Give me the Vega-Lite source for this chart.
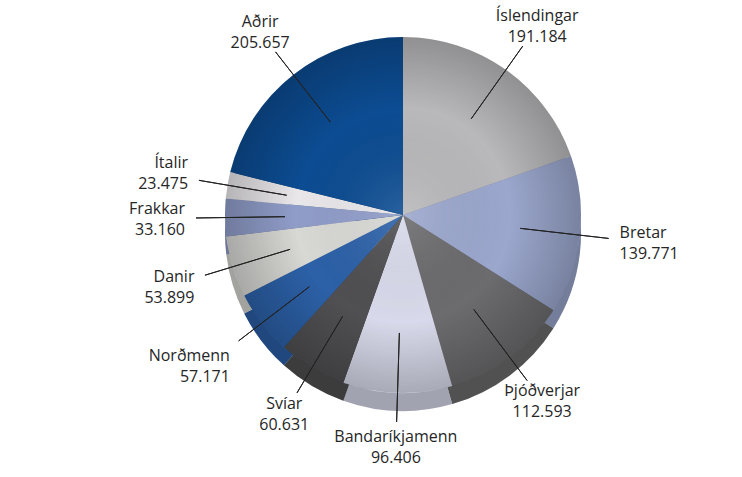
{
  "$schema": "https://vega.github.io/schema/vega-lite/v6.json",
  "width": 678,
  "height": 430,
  "autosize": {"type": "none"},
  "padding": {"left": 64, "top": 0, "right": 0, "bottom": 47},
  "background": "white",
  "config": {
    "view": {"stroke": null},
    "text": {"font": "Open Sans", "fontSize": 16, "color": "#262626"}
  },
  "data": {
    "values": [
      {"k": 1, "land": "Íslendingar", "fjoldi": 191184},
      {"k": 2, "land": "Bretar", "fjoldi": 139771},
      {"k": 3, "land": "Þjóðverjar", "fjoldi": 112593},
      {"k": 4, "land": "Bandaríkjamenn", "fjoldi": 96406},
      {"k": 5, "land": "Svíar", "fjoldi": 60631},
      {"k": 6, "land": "Norðmenn", "fjoldi": 57171},
      {"k": 7, "land": "Danir", "fjoldi": 53899},
      {"k": 8, "land": "Frakkar", "fjoldi": 33160},
      {"k": 9, "land": "Ítalir", "fjoldi": 23475},
      {"k": 10, "land": "Aðrir", "fjoldi": 205657}
    ]
  },
  "transform": [
    {"joinaggregate": [{"op": "sum", "field": "fjoldi", "as": "total"}]},
    {"window": [{"op": "sum", "field": "fjoldi", "as": "cum"}], "sort": [{"field": "k", "order": "ascending"}], "frame": [null, 0]},
    {"calculate": "2*PI*(datum.cum - datum.fjoldi)/datum.total", "as": "a0"},
    {"calculate": "2*PI*datum.cum/datum.total", "as": "a1"},
    {"calculate": "(datum.a0 + datum.a1)/2", "as": "mid"},
    {"calculate": "replace(format(datum.fjoldi, ','), ',', '.')", "as": "txt"}
  ],
  "layer": [
    {
      "mark": {"type": "arc", "yOffset": 18},
      "encoding": {
        "theta": {"field": "a0", "type": "quantitative", "scale": null},
        "theta2": {"field": "a1"},
        "radius": {"value": 178},
        "color": {
          "field": "land", "type": "nominal", "legend": null,
          "scale": {
            "domain": ["Íslendingar", "Bretar", "Þjóðverjar", "Bandaríkjamenn", "Svíar", "Norðmenn", "Danir", "Frakkar", "Ítalir", "Aðrir"],
            "range": ["#b9b9bb", "#9ba7cd", "#6c6c6e", "#d8daeb", "#505052", "#2c61a8", "#d8d8d5", "#909dc9", "#e9e7ea", "#0c4c92"]
          }
        }
      }
    },
    {
      "mark": {"type": "arc", "yOffset": 18, "color": "black", "opacity": 0.25},
      "encoding": {
        "theta": {"field": "a0", "type": "quantitative", "scale": null},
        "theta2": {"field": "a1"},
        "radius": {"value": 178}
      }
    },
    {
      "mark": {"type": "arc"},
      "encoding": {
        "theta": {"field": "a0", "type": "quantitative", "scale": null},
        "theta2": {"field": "a1"},
        "radius": {"value": 178},
        "color": {"field": "land", "type": "nominal", "legend": null}
      }
    },
    {
      "transform": [{"aggregate": [{"op": "count", "as": "n"}]}],
      "mark": {
        "type": "arc", "theta": 0, "theta2": 6.2832, "radius": 178,
        "fill": {
          "gradient": "radial", "x1": 0.5, "y1": 0.5, "r1": 0, "x2": 0.5, "y2": 0.5, "r2": 0.5,
          "stops": [
            {"offset": 0, "color": "rgba(255,255,255,0.12)"},
            {"offset": 0.6, "color": "rgba(0,0,0,0)"},
            {"offset": 1, "color": "rgba(0,0,0,0.22)"}
          ]
        }
      },
      "encoding": {}
    },
    {
      "mark": {"type": "arc", "filled": false, "stroke": "#222222", "strokeWidth": 1},
      "encoding": {
        "theta": {"field": "mid", "type": "quantitative", "scale": null},
        "theta2": {"field": "mid"},
        "radius": {"value": 207},
        "radius2": {"value": 118}
      }
    },
    {
      "mark": {
        "type": "text",
        "dy": {"expr": "-10 - (abs(sin(datum.mid)) > 0.75 ? 30*cos(datum.mid) : 0)"},
        "align": {"expr": "abs(sin(datum.mid)) > 0.75 ? (sin(datum.mid) > 0 ? 'left' : 'right') : 'center'"},
        "radiusOffset": {"expr": "abs(sin(datum.mid)) > 0.75 ? 0 : 14"}
      },
      "encoding": {
        "theta": {"field": "mid", "type": "quantitative", "scale": null},
        "radius": {"value": 218},
        "text": {"field": "land"}
      }
    },
    {
      "mark": {
        "type": "text",
        "dy": {"expr": "11 - (abs(sin(datum.mid)) > 0.75 ? 30*cos(datum.mid) : 0)"},
        "align": {"expr": "abs(sin(datum.mid)) > 0.75 ? (sin(datum.mid) > 0 ? 'left' : 'right') : 'center'"},
        "radiusOffset": {"expr": "abs(sin(datum.mid)) > 0.75 ? 0 : 14"}
      },
      "encoding": {
        "theta": {"field": "mid", "type": "quantitative", "scale": null},
        "radius": {"value": 218},
        "text": {"field": "txt"}
      }
    }
  ]
}
